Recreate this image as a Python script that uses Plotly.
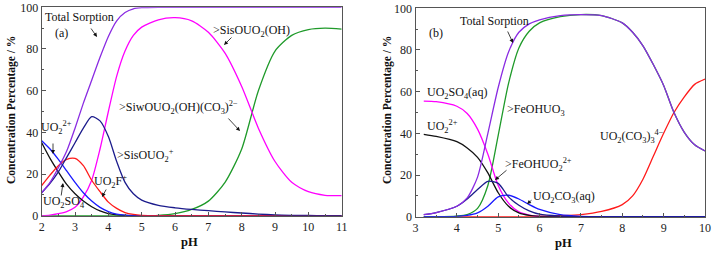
import plotly.graph_objects as go

W, H = 717, 253

# ---------------- Panel (a) data ----------------
ph_a = [2, 2.25, 2.5, 2.75, 3, 3.25, 3.5, 3.75, 4, 4.25, 4.5, 4.75, 5, 5.5, 6, 6.5, 7, 7.5, 8, 8.5, 9, 9.5, 10, 10.5, 11]
total_a = [11, 16, 23, 31, 42, 54, 65, 76, 86, 93.5, 97.5, 99.3, 99.8, 100, 100, 100, 100, 100, 100, 100, 100, 100, 100, 100, 100]
sisouo2_a = [11, 15.5, 21, 28, 35, 42, 47.5, 45.5, 38, 26, 16, 10.5, 7.5, 5, 3.8, 3, 2.4, 1.8, 1.3, 0.8, 0.4, 0.2, 0.1, 0, 0]
sisouo2oh_a = [0, 0.3, 1, 2, 4, 9, 17, 32, 50, 67, 79, 86.5, 90.5, 94, 95, 93.5, 88, 78, 62, 42, 26, 16, 11.5, 9.8, 9.6]
siw_a = [0, 0, 0, 0, 0, 0, 0, 0, 0, 0, 0, 0, 0, 0.2, 1, 3, 7, 16, 32, 60, 79, 86.5, 89.3, 90, 89.5]
uo2f_a = [14.5, 19.5, 24, 27, 27.5, 24, 17, 11.5, 6.5, 3.5, 1.5, 0.6, 0.2, 0, 0, 0, 0, 0, 0, 0, 0, 0, 0, 0, 0]
uo2_a = [36, 32, 27, 21.5, 16, 11, 7, 4, 2, 0.8, 0.3, 0.1, 0, 0, 0, 0, 0, 0, 0, 0, 0, 0, 0, 0, 0]
uo2so4_a = [35, 27.5, 21, 15, 10.5, 7, 4.3, 2.3, 1, 0.4, 0.1, 0, 0, 0, 0, 0, 0, 0, 0, 0, 0, 0, 0, 0, 0]

# ---------------- Panel (b) data ----------------
ph_b = [3.2, 3.5, 4, 4.25, 4.5, 4.75, 5, 5.25, 5.5, 5.75, 6, 6.5, 7, 7.5, 8, 8.25, 8.5, 8.75, 9, 9.25, 9.5, 9.75, 10]
total_b = [1, 2, 5, 9, 19, 40, 62, 79, 88.5, 92.5, 94.5, 96.5, 97, 96.5, 93, 88.5, 82, 73, 63, 50, 40.5, 34.5, 31.5]
feohuo3_b = [0, 0, 0.3, 1, 4, 15, 39, 64, 81, 89, 93, 96, 97, 96.5, 93, 88.5, 82, 73, 63, 50, 40.5, 34.5, 31.5]
uo2so4_b = [55.5, 55.2, 53, 49.5, 42, 30, 15, 6.5, 2.3, 0.8, 0.2, 0, 0, 0, 0, 0, 0, 0, 0, 0, 0, 0, 0]
uo2_b = [39.5, 38.5, 36, 33, 28.5, 21, 11.5, 5, 1.8, 0.6, 0.2, 0, 0, 0, 0, 0, 0, 0, 0, 0, 0, 0, 0]
feohuo2_b = [1, 2, 5, 8.5, 13, 17, 16, 9.5, 5.5, 2.8, 1.2, 0.3, 0, 0, 0, 0, 0, 0, 0, 0, 0, 0, 0]
uo2co3_b = [0, 0, 0.2, 0.6, 1.8, 5, 9.5, 10.3, 8.5, 5.8, 3.5, 1, 0.2, 0, 0, 0, 0, 0, 0, 0, 0, 0, 0]
uo2co33_b = [0, 0, 0, 0, 0, 0, 0, 0, 0, 0, 0.2, 0.5, 1, 2.5, 5.8, 10, 18, 29, 40, 50, 57.5, 63.5, 66]

x_ticks_a = [2, 3, 4, 5, 6, 7, 8, 9, 10, 11]
x_ticks_b = [3, 4, 5, 6, 7, 8, 9, 10]
y_ticks = [0, 20, 40, 60, 80, 100]

PURPLE = "#8a2be2"
MAGENTA = "#ff00ff"
GREEN = "#1f9a2a"
NAVY = "#1c1c8c"
BLUE = "#1a1aff"
RED = "#ff1a1a"
BLACK = "#111111"

FONT = "Liberation Serif, Times New Roman, serif"

fig = go.Figure()


def add(x, y, color, xa, ya):
    fig.add_trace(go.Scatter(x=x, y=y, mode="lines", line=dict(color=color, width=1.3, shape="spline", smoothing=0.7),
                             xaxis=xa, yaxis=ya, showlegend=False, hoverinfo="skip"))


# panel a
add(ph_a, siw_a, GREEN, "x", "y")
add(ph_a, sisouo2oh_a, MAGENTA, "x", "y")
add(ph_a, uo2so4_a, BLACK, "x", "y")
add(ph_a, uo2_a, BLUE, "x", "y")
add(ph_a, uo2f_a, RED, "x", "y")
add(ph_a, sisouo2_a, NAVY, "x", "y")
add(ph_a, total_a, PURPLE, "x", "y")

# panel b
add(ph_b, uo2co33_b, RED, "x2", "y2")
add(ph_b, feohuo3_b, GREEN, "x2", "y2")
add(ph_b, uo2so4_b, MAGENTA, "x2", "y2")
add(ph_b, uo2_b, BLACK, "x2", "y2")
add(ph_b, uo2co3_b, BLUE, "x2", "y2")
add(ph_b, feohuo2_b, NAVY, "x2", "y2")
add(ph_b, total_b, PURPLE, "x2", "y2")

axis_common = dict(showline=True, mirror=True, linecolor="#555555", linewidth=1, automargin=False,
                   ticks="inside", ticklen=4, tickcolor="#555555", showgrid=False, zeroline=False,
                   tickfont=dict(family=FONT, size=12, color="#222"))
minor = dict(ticks="inside", ticklen=2, tickcolor="#555555", showgrid=False)

fig.update_layout(
    width=W, height=H, margin=dict(l=0, r=0, t=0, b=0, pad=0, autoexpand=False),
    paper_bgcolor="white", plot_bgcolor="white",
    font=dict(family=FONT),
    xaxis=dict(domain=[41.7 / W, 341.7 / W], range=[2, 11], tickvals=x_ticks_a, anchor="y",
               minor=dict(dtick=0.5, **minor), **axis_common),
    yaxis=dict(domain=[(H - 215.7) / H, (H - 7.3) / H], range=[0, 100], tickvals=y_ticks, anchor="x",
               minor=dict(dtick=10, **minor), **axis_common),
    xaxis2=dict(domain=[415.5 / W, 705 / W], range=[3, 10], tickvals=x_ticks_b, anchor="y2",
                minor=dict(dtick=0.5, **minor), **axis_common),
    yaxis2=dict(domain=[(H - 216.7) / H, (H - 8.3) / H], range=[0, 100], tickvals=y_ticks, anchor="x2",
                minor=dict(dtick=10, **minor), **axis_common),
)


def px(x, y):
    return x / W, 1 - y / H


def text(x, y, s, size=12, bold=False, angle=0):
    X, Y = px(x, y)
    fig.add_annotation(x=X, y=Y, xref="paper", yref="paper", text=(f"<b>{s}</b>" if bold else s),
                       showarrow=False, xanchor="center", yanchor="middle", textangle=angle,
                       font=dict(family=FONT, size=size, color="#111"))


def arrow(x0, y0, x1, y1):
    X, Y = px(x1, y1)
    fig.add_annotation(x=X, y=Y, xref="paper", yref="paper", text="", showarrow=True,
                       ax=x0 - x1, ay=y0 - y1, arrowhead=2, arrowsize=1, arrowwidth=0.8,
                       arrowcolor="#111", standoff=0, startstandoff=0)


# axis titles
text(12, 110, "Concentration Percentage / %", size=11.5, bold=True, angle=-90)
text(189, 242, "pH", size=12.5, bold=True)
text(388, 110, "Concentration Percentage / %", size=11.5, bold=True, angle=-90)
text(563, 243, "pH", size=12.5, bold=True)

# panel a labels
text(79, 17, "Total Sorption")
arrow(90, 27, 97, 37)
text(61, 33, "(a)")
text(252, 31, "&gt;SisOUO<sub>2</sub>(OH)")
arrow(233, 36, 224, 45)
text(178, 107, "&gt;SiwOUO<sub>2</sub>(OH)(CO<sub>3</sub>)<sup>2−</sup>")
arrow(227, 117, 240, 131)
text(145, 155, "&gt;SisOUO<sub>2</sub><sup>+</sup>")
text(56, 128, "UO<sub>2</sub><sup>2+</sup>")
arrow(53, 142, 53, 154)
text(110, 181, "UO<sub>2</sub>F<sup>+</sup>")
arrow(107, 188, 102, 197)
text(64, 202, "UO<sub>2</sub>SO<sub>4</sub>")
arrow(61, 197, 63, 183)

# panel b labels
text(494, 21, "Total Sorption")
arrow(507, 30, 513, 43)
text(436, 33, "(b)")
text(457, 93, "UO<sub>2</sub>SO<sub>4</sub>(aq)")
text(536, 110, "&gt;FeOHUO<sub>3</sub>")
text(442, 126, "UO<sub>2</sub><sup>2+</sup>")
text(538, 164, "&gt;FeOHUO<sub>2</sub><sup>2+</sup>")
arrow(508, 169, 495, 180)
text(564, 197, "UO<sub>2</sub>CO<sub>3</sub>(aq)")
arrow(533, 199, 527, 204)
text(632, 136, "UO<sub>2</sub>(CO<sub>3</sub>)<sub>3</sub><sup>4−</sup>")

fig.write_html("out.html", config={"displayModeBar": False},
               post_script="document.body.style.margin='0';document.body.style.overflow='hidden';")
